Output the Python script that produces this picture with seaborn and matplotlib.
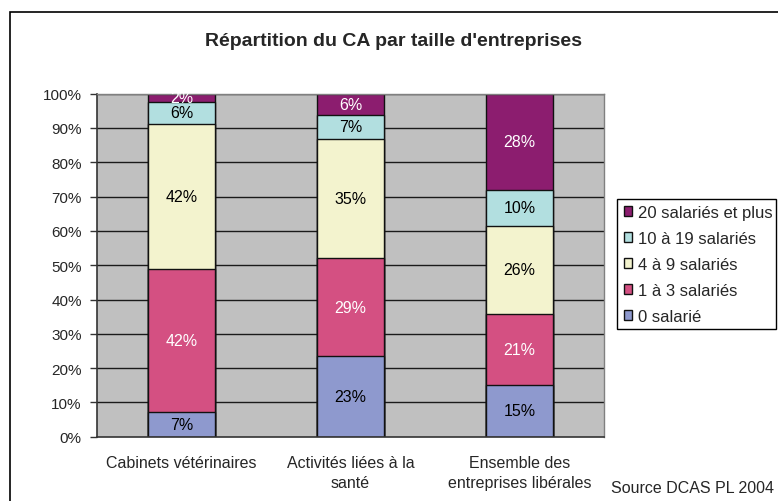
import matplotlib
matplotlib.use("Agg")
import matplotlib.pyplot as plt
from matplotlib.patches import Rectangle, Patch
import seaborn as sns
import pandas as pd
import numpy as np

# data (percent of turnover)
categories = ["Cabinets vétérinaires", "Activités liées à la\nsanté", "Ensemble des\nentreprises libérales"]
series_names = ["0 salarié", "1 à 3 salariés", "4 à 9 salariés", "10 à 19 salariés", "20 salariés et plus"]
sal_0 = [7.1, 23.4, 15.1]
sal_1_3 = [41.9, 28.8, 20.8]
sal_4_9 = [42.2, 34.6, 25.6]
sal_10_19 = [6.4, 7.1, 10.4]
sal_20_plus = [2.4, 6.1, 28.1]
y_ticks = [0, 10, 20, 30, 40, 50, 60, 70, 80, 90, 100]

colors = ["#8E99CE", "#D45082", "#F3F3CE", "#B2DFE0", "#8C1D6F"]
text_colors = ["black", "white", "black", "black", "white"]

sns.set_style("white")
plt.rcParams["font.family"] = ["Liberation Sans", "DejaVu Sans"]

layers = [sal_0, sal_1_3, sal_4_9, sal_10_19, sal_20_plus]
cum = np.cumsum(np.array(layers), axis=0)

fig = plt.figure(figsize=(7.78, 5.02), dpi=100)
ax = fig.add_axes([97 / 778, 1 - 437.7 / 502, (604 - 97) / 778, (437.7 - 94.7) / 502])
ax.set_facecolor("#C0C0C0")

# y gridlines behind bars
ax.set_axisbelow(True)
for t in y_ticks[1:]:
    ax.axhline(t, color="#1a1a1a", lw=1, zorder=0.5)

# stacked bars: draw cumulative totals from top layer down
for i in range(len(layers) - 1, -1, -1):
    df = pd.DataFrame({"cat": categories, "cum": cum[i]})
    sns.barplot(data=df, x="cat", y="cum", color=colors[i], saturation=1,
                edgecolor="#111111", linewidth=1.0, width=0.4, ax=ax, zorder=2)

# value labels
for i, vals in enumerate(layers):
    for j, v in enumerate(vals):
        base = cum[i][j] - v
        ax.text(j, base + v / 2, f"{v:.0f}%", ha="center", va="center",
                fontsize=11.5, color=text_colors[i], zorder=3)

ax.set_ylim(0, 100)
ax.set_xlim(-0.5, 2.5)
ax.set_yticks(y_ticks)
ax.set_yticklabels([f"{t}%" for t in y_ticks], fontsize=11)
ax.set_xticks(range(len(categories)))
ax.set_xticklabels(categories, fontsize=11.5, linespacing=1.4)
ax.set_xticks([-0.5, 0.5, 1.5, 2.5], minor=True)
ax.tick_params(axis="x", which="major", length=0, pad=13)
ax.tick_params(axis="x", which="minor", length=5, width=1, color="#333333", direction="out")
ax.tick_params(axis="y", length=5, width=1, color="#333333", direction="out", pad=6, left=True)
ax.set_xlabel("")
ax.set_ylabel("")
for side in ["left", "bottom"]:
    ax.spines[side].set_color("#333333")
    ax.spines[side].set_linewidth(1.2)
for side in ["top", "right"]:
    ax.spines[side].set_color("#808080")
    ax.spines[side].set_linewidth(1)

# legend (top layer first), frame drawn separately
handles = [Patch(facecolor=colors[i], edgecolor="#111111", linewidth=1) for i in range(4, -1, -1)]
labels = [series_names[i] for i in range(4, -1, -1)]
leg = fig.legend(handles, labels, loc="upper left", bbox_to_anchor=(624 / 778, 1 - 206 / 502),
                 frameon=False, fontsize=12,
                 handlelength=0.5, handleheight=0.5, handletextpad=0.35,
                 labelspacing=0.66, borderpad=0, borderaxespad=0)
fig.patches.append(Rectangle((617 / 778, 1 - 330 / 502), 159 / 778, 130 / 502,
                             transform=fig.transFigure, fill=False, edgecolor="black", linewidth=1))

fig.text(393 / 778, 1 - 41 / 502, "Répartition du CA par taille d'entreprises",
         ha="center", va="center", fontsize=14, fontweight="bold")
fig.text(611 / 778, 1 - 489 / 502, "Source DCAS PL 2004", ha="left", va="center", fontsize=11.5)

# outer chart border (runs off the right and bottom of the image)
fig.patches.append(Rectangle((10 / 778, -0.1), 1.0, 1.1 - 13 / 502, transform=fig.transFigure,
                             fill=False, edgecolor="black", linewidth=1.2))

fig.savefig("out.png", dpi=100)
